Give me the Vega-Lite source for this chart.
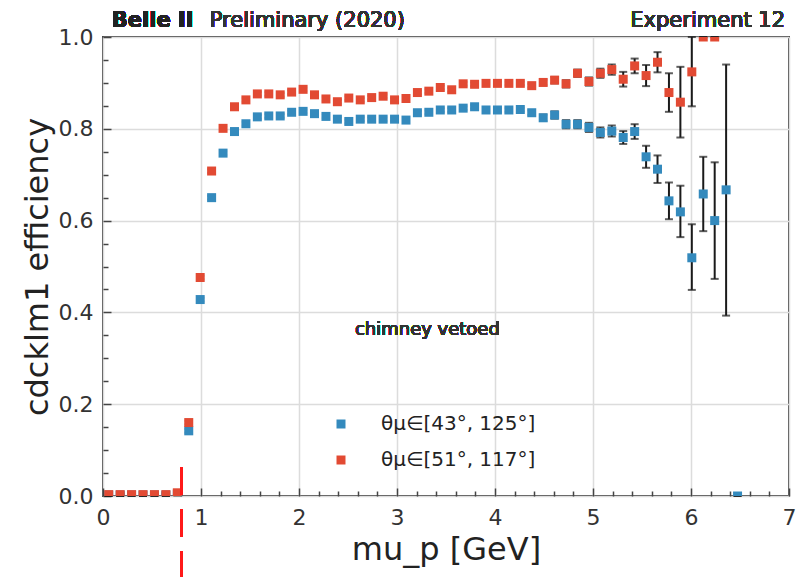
{
  "$schema": "https://vega.github.io/schema/vega-lite/v6.json",
  "width": 686,
  "height": 459,
  "autosize": {"type": "none"},
  "padding": {"left": 103, "top": 37, "right": 9, "bottom": 81},
  "background": "white",
  "config": {
    "font": "DejaVu Sans",
    "view": {"stroke": "#444", "strokeWidth": 2},
    "axis": {
      "domain": false,
      "labelFont": "DejaVu Sans",
      "labelFontSize": 22,
      "labelColor": "#333",
      "titleFont": "DejaVu Sans",
      "titleFontSize": 32,
      "titleFontWeight": "normal",
      "titleColor": "#222",
      "tickColor": "#444",
      "tickWidth": 1.5,
      "gridColor": "#dcdcdc",
      "gridWidth": 1.5,
      "labelOverlap": false,
      "labelFlush": false,
      "labelBound": false
    },
    "axisX": {"titlePadding": 6, "tickSize": -8, "labelPadding": 19},
    "axisY": {"titlePadding": 4, "tickSize": -8, "labelPadding": 18}
  },
  "datasets": {
    "pts": [
      {"series": "θμ∈[43°, 125°]", "p": 0.0583, "eff": 0.002, "lo": 0.0, "hi": 0.004},
      {"series": "θμ∈[43°, 125°]", "p": 0.175, "eff": 0.002, "lo": 0.0, "hi": 0.004},
      {"series": "θμ∈[43°, 125°]", "p": 0.2917, "eff": 0.002, "lo": 0.0, "hi": 0.004},
      {"series": "θμ∈[43°, 125°]", "p": 0.4083, "eff": 0.002, "lo": 0.0, "hi": 0.004},
      {"series": "θμ∈[43°, 125°]", "p": 0.525, "eff": 0.002, "lo": 0.0, "hi": 0.004},
      {"series": "θμ∈[43°, 125°]", "p": 0.6417, "eff": 0.002, "lo": 0.0, "hi": 0.004},
      {"series": "θμ∈[43°, 125°]", "p": 0.7583, "eff": 0.004, "lo": 0.001, "hi": 0.007},
      {"series": "θμ∈[43°, 125°]", "p": 0.875, "eff": 0.142, "lo": 0.138, "hi": 0.146},
      {"series": "θμ∈[43°, 125°]", "p": 0.9917, "eff": 0.428, "lo": 0.424, "hi": 0.432},
      {"series": "θμ∈[43°, 125°]", "p": 1.1083, "eff": 0.650, "lo": 0.646, "hi": 0.654},
      {"series": "θμ∈[43°, 125°]", "p": 1.225, "eff": 0.747, "lo": 0.743, "hi": 0.751},
      {"series": "θμ∈[43°, 125°]", "p": 1.3417, "eff": 0.794, "lo": 0.790, "hi": 0.798},
      {"series": "θμ∈[43°, 125°]", "p": 1.4583, "eff": 0.811, "lo": 0.807, "hi": 0.815},
      {"series": "θμ∈[43°, 125°]", "p": 1.575, "eff": 0.826, "lo": 0.822, "hi": 0.830},
      {"series": "θμ∈[43°, 125°]", "p": 1.6917, "eff": 0.828, "lo": 0.824, "hi": 0.832},
      {"series": "θμ∈[43°, 125°]", "p": 1.8083, "eff": 0.828, "lo": 0.824, "hi": 0.832},
      {"series": "θμ∈[43°, 125°]", "p": 1.925, "eff": 0.836, "lo": 0.832, "hi": 0.840},
      {"series": "θμ∈[43°, 125°]", "p": 2.0417, "eff": 0.838, "lo": 0.834, "hi": 0.842},
      {"series": "θμ∈[43°, 125°]", "p": 2.1583, "eff": 0.833, "lo": 0.829, "hi": 0.837},
      {"series": "θμ∈[43°, 125°]", "p": 2.275, "eff": 0.827, "lo": 0.823, "hi": 0.831},
      {"series": "θμ∈[43°, 125°]", "p": 2.3917, "eff": 0.821, "lo": 0.817, "hi": 0.825},
      {"series": "θμ∈[43°, 125°]", "p": 2.5083, "eff": 0.816, "lo": 0.812, "hi": 0.820},
      {"series": "θμ∈[43°, 125°]", "p": 2.625, "eff": 0.821, "lo": 0.817, "hi": 0.825},
      {"series": "θμ∈[43°, 125°]", "p": 2.7417, "eff": 0.821, "lo": 0.817, "hi": 0.825},
      {"series": "θμ∈[43°, 125°]", "p": 2.8583, "eff": 0.821, "lo": 0.817, "hi": 0.825},
      {"series": "θμ∈[43°, 125°]", "p": 2.975, "eff": 0.821, "lo": 0.817, "hi": 0.825},
      {"series": "θμ∈[43°, 125°]", "p": 3.0917, "eff": 0.819, "lo": 0.815, "hi": 0.823},
      {"series": "θμ∈[43°, 125°]", "p": 3.2083, "eff": 0.835, "lo": 0.831, "hi": 0.839},
      {"series": "θμ∈[43°, 125°]", "p": 3.325, "eff": 0.836, "lo": 0.832, "hi": 0.840},
      {"series": "θμ∈[43°, 125°]", "p": 3.4417, "eff": 0.841, "lo": 0.837, "hi": 0.845},
      {"series": "θμ∈[43°, 125°]", "p": 3.5583, "eff": 0.841, "lo": 0.837, "hi": 0.845},
      {"series": "θμ∈[43°, 125°]", "p": 3.675, "eff": 0.845, "lo": 0.841, "hi": 0.849},
      {"series": "θμ∈[43°, 125°]", "p": 3.7917, "eff": 0.848, "lo": 0.844, "hi": 0.852},
      {"series": "θμ∈[43°, 125°]", "p": 3.9083, "eff": 0.841, "lo": 0.837, "hi": 0.845},
      {"series": "θμ∈[43°, 125°]", "p": 4.025, "eff": 0.841, "lo": 0.837, "hi": 0.845},
      {"series": "θμ∈[43°, 125°]", "p": 4.1417, "eff": 0.841, "lo": 0.837, "hi": 0.845},
      {"series": "θμ∈[43°, 125°]", "p": 4.2583, "eff": 0.842, "lo": 0.838, "hi": 0.846},
      {"series": "θμ∈[43°, 125°]", "p": 4.375, "eff": 0.835, "lo": 0.830, "hi": 0.840},
      {"series": "θμ∈[43°, 125°]", "p": 4.4917, "eff": 0.824, "lo": 0.817, "hi": 0.831},
      {"series": "θμ∈[43°, 125°]", "p": 4.6083, "eff": 0.830, "lo": 0.822, "hi": 0.838},
      {"series": "θμ∈[43°, 125°]", "p": 4.725, "eff": 0.810, "lo": 0.801, "hi": 0.819},
      {"series": "θμ∈[43°, 125°]", "p": 4.8417, "eff": 0.810, "lo": 0.801, "hi": 0.819},
      {"series": "θμ∈[43°, 125°]", "p": 4.9583, "eff": 0.803, "lo": 0.793, "hi": 0.813},
      {"series": "θμ∈[43°, 125°]", "p": 5.075, "eff": 0.792, "lo": 0.781, "hi": 0.803},
      {"series": "θμ∈[43°, 125°]", "p": 5.1917, "eff": 0.795, "lo": 0.783, "hi": 0.807},
      {"series": "θμ∈[43°, 125°]", "p": 5.3083, "eff": 0.781, "lo": 0.767, "hi": 0.795},
      {"series": "θμ∈[43°, 125°]", "p": 5.425, "eff": 0.794, "lo": 0.778, "hi": 0.810},
      {"series": "θμ∈[43°, 125°]", "p": 5.5417, "eff": 0.739, "lo": 0.715, "hi": 0.763},
      {"series": "θμ∈[43°, 125°]", "p": 5.6583, "eff": 0.712, "lo": 0.682, "hi": 0.742},
      {"series": "θμ∈[43°, 125°]", "p": 5.775, "eff": 0.643, "lo": 0.603, "hi": 0.683},
      {"series": "θμ∈[43°, 125°]", "p": 5.8917, "eff": 0.619, "lo": 0.564, "hi": 0.676},
      {"series": "θμ∈[43°, 125°]", "p": 6.0083, "eff": 0.519, "lo": 0.449, "hi": 0.592},
      {"series": "θμ∈[43°, 125°]", "p": 6.125, "eff": 0.658, "lo": 0.577, "hi": 0.739},
      {"series": "θμ∈[43°, 125°]", "p": 6.2417, "eff": 0.600, "lo": 0.473, "hi": 0.727},
      {"series": "θμ∈[43°, 125°]", "p": 6.3583, "eff": 0.667, "lo": 0.393, "hi": 0.940},
      {"series": "θμ∈[43°, 125°]", "p": 6.475, "eff": 0.0, "lo": 0.0, "hi": 0.0},
      {"series": "θμ∈[51°, 117°]", "p": 0.0583, "eff": 0.003, "lo": 0.0, "hi": 0.006},
      {"series": "θμ∈[51°, 117°]", "p": 0.175, "eff": 0.003, "lo": 0.0, "hi": 0.006},
      {"series": "θμ∈[51°, 117°]", "p": 0.2917, "eff": 0.003, "lo": 0.0, "hi": 0.006},
      {"series": "θμ∈[51°, 117°]", "p": 0.4083, "eff": 0.003, "lo": 0.0, "hi": 0.006},
      {"series": "θμ∈[51°, 117°]", "p": 0.525, "eff": 0.003, "lo": 0.0, "hi": 0.006},
      {"series": "θμ∈[51°, 117°]", "p": 0.6417, "eff": 0.003, "lo": 0.0, "hi": 0.006},
      {"series": "θμ∈[51°, 117°]", "p": 0.7583, "eff": 0.007, "lo": 0.003, "hi": 0.011},
      {"series": "θμ∈[51°, 117°]", "p": 0.875, "eff": 0.160, "lo": 0.156, "hi": 0.164},
      {"series": "θμ∈[51°, 117°]", "p": 0.9917, "eff": 0.476, "lo": 0.472, "hi": 0.480},
      {"series": "θμ∈[51°, 117°]", "p": 1.1083, "eff": 0.708, "lo": 0.704, "hi": 0.712},
      {"series": "θμ∈[51°, 117°]", "p": 1.225, "eff": 0.801, "lo": 0.797, "hi": 0.805},
      {"series": "θμ∈[51°, 117°]", "p": 1.3417, "eff": 0.848, "lo": 0.844, "hi": 0.852},
      {"series": "θμ∈[51°, 117°]", "p": 1.4583, "eff": 0.863, "lo": 0.859, "hi": 0.867},
      {"series": "θμ∈[51°, 117°]", "p": 1.575, "eff": 0.876, "lo": 0.872, "hi": 0.880},
      {"series": "θμ∈[51°, 117°]", "p": 1.6917, "eff": 0.876, "lo": 0.872, "hi": 0.880},
      {"series": "θμ∈[51°, 117°]", "p": 1.8083, "eff": 0.874, "lo": 0.870, "hi": 0.878},
      {"series": "θμ∈[51°, 117°]", "p": 1.925, "eff": 0.880, "lo": 0.876, "hi": 0.884},
      {"series": "θμ∈[51°, 117°]", "p": 2.0417, "eff": 0.886, "lo": 0.882, "hi": 0.890},
      {"series": "θμ∈[51°, 117°]", "p": 2.1583, "eff": 0.874, "lo": 0.870, "hi": 0.878},
      {"series": "θμ∈[51°, 117°]", "p": 2.275, "eff": 0.865, "lo": 0.861, "hi": 0.869},
      {"series": "θμ∈[51°, 117°]", "p": 2.3917, "eff": 0.859, "lo": 0.855, "hi": 0.863},
      {"series": "θμ∈[51°, 117°]", "p": 2.5083, "eff": 0.867, "lo": 0.863, "hi": 0.871},
      {"series": "θμ∈[51°, 117°]", "p": 2.625, "eff": 0.863, "lo": 0.859, "hi": 0.867},
      {"series": "θμ∈[51°, 117°]", "p": 2.7417, "eff": 0.868, "lo": 0.864, "hi": 0.872},
      {"series": "θμ∈[51°, 117°]", "p": 2.8583, "eff": 0.871, "lo": 0.867, "hi": 0.875},
      {"series": "θμ∈[51°, 117°]", "p": 2.975, "eff": 0.863, "lo": 0.859, "hi": 0.867},
      {"series": "θμ∈[51°, 117°]", "p": 3.0917, "eff": 0.866, "lo": 0.862, "hi": 0.870},
      {"series": "θμ∈[51°, 117°]", "p": 3.2083, "eff": 0.879, "lo": 0.875, "hi": 0.883},
      {"series": "θμ∈[51°, 117°]", "p": 3.325, "eff": 0.882, "lo": 0.878, "hi": 0.886},
      {"series": "θμ∈[51°, 117°]", "p": 3.4417, "eff": 0.890, "lo": 0.886, "hi": 0.894},
      {"series": "θμ∈[51°, 117°]", "p": 3.5583, "eff": 0.885, "lo": 0.881, "hi": 0.889},
      {"series": "θμ∈[51°, 117°]", "p": 3.675, "eff": 0.898, "lo": 0.894, "hi": 0.902},
      {"series": "θμ∈[51°, 117°]", "p": 3.7917, "eff": 0.897, "lo": 0.893, "hi": 0.901},
      {"series": "θμ∈[51°, 117°]", "p": 3.9083, "eff": 0.899, "lo": 0.895, "hi": 0.903},
      {"series": "θμ∈[51°, 117°]", "p": 4.025, "eff": 0.899, "lo": 0.895, "hi": 0.903},
      {"series": "θμ∈[51°, 117°]", "p": 4.1417, "eff": 0.899, "lo": 0.895, "hi": 0.903},
      {"series": "θμ∈[51°, 117°]", "p": 4.2583, "eff": 0.899, "lo": 0.895, "hi": 0.903},
      {"series": "θμ∈[51°, 117°]", "p": 4.375, "eff": 0.894, "lo": 0.890, "hi": 0.898},
      {"series": "θμ∈[51°, 117°]", "p": 4.4917, "eff": 0.901, "lo": 0.895, "hi": 0.907},
      {"series": "θμ∈[51°, 117°]", "p": 4.6083, "eff": 0.906, "lo": 0.899, "hi": 0.913},
      {"series": "θμ∈[51°, 117°]", "p": 4.725, "eff": 0.898, "lo": 0.890, "hi": 0.906},
      {"series": "θμ∈[51°, 117°]", "p": 4.8417, "eff": 0.921, "lo": 0.913, "hi": 0.929},
      {"series": "θμ∈[51°, 117°]", "p": 4.9583, "eff": 0.903, "lo": 0.894, "hi": 0.912},
      {"series": "θμ∈[51°, 117°]", "p": 5.075, "eff": 0.921, "lo": 0.911, "hi": 0.931},
      {"series": "θμ∈[51°, 117°]", "p": 5.1917, "eff": 0.929, "lo": 0.918, "hi": 0.940},
      {"series": "θμ∈[51°, 117°]", "p": 5.3083, "eff": 0.908, "lo": 0.892, "hi": 0.924},
      {"series": "θμ∈[51°, 117°]", "p": 5.425, "eff": 0.937, "lo": 0.921, "hi": 0.953},
      {"series": "θμ∈[51°, 117°]", "p": 5.5417, "eff": 0.916, "lo": 0.893, "hi": 0.939},
      {"series": "θμ∈[51°, 117°]", "p": 5.6583, "eff": 0.945, "lo": 0.923, "hi": 0.967},
      {"series": "θμ∈[51°, 117°]", "p": 5.775, "eff": 0.879, "lo": 0.837, "hi": 0.921},
      {"series": "θμ∈[51°, 117°]", "p": 5.8917, "eff": 0.858, "lo": 0.781, "hi": 0.935},
      {"series": "θμ∈[51°, 117°]", "p": 6.0083, "eff": 0.924, "lo": 0.849, "hi": 1.0},
      {"series": "θμ∈[51°, 117°]", "p": 6.125, "eff": 1.0, "lo": 1.0, "hi": 1.0},
      {"series": "θμ∈[51°, 117°]", "p": 6.2417, "eff": 1.0, "lo": 1.0, "hi": 1.0}
    ]
  },
  "resolve": {"axis": {"x": "independent", "y": "independent"}},
  "layer": [
    {
      "data": {"name": "pts"},
      "layer": [
        {
          "mark": {"type": "errorbar", "ticks": true, "size": 8, "thickness": 2, "color": "#1a1a1a"},
          "encoding": {
            "x": {"field": "p", "type": "quantitative", "title": "mu_p [GeV]", "scale": {"domain": [0, 7]},
                  "axis": {"orient": "bottom", "values": [0, 1, 2, 3, 4, 5, 6, 7], "format": "d"}},
            "y": {"field": "lo", "type": "quantitative", "title": "cdcklm1 efficiency", "scale": {"domain": [0, 1]},
                  "axis": {"orient": "left", "values": [0, 0.2, 0.4, 0.6, 0.8, 1], "format": ".1f"}},
            "y2": {"field": "hi"}
          }
        },
        {
          "mark": {"type": "square", "size": 81, "opacity": 1, "clip": true},
          "encoding": {
            "x": {"field": "p", "type": "quantitative", "title": "mu_p [GeV]", "scale": {"domain": [0, 7]},
                  "axis": {"orient": "bottom", "values": [0, 1, 2, 3, 4, 5, 6, 7], "format": "d"}},
            "y": {"field": "eff", "type": "quantitative", "title": "cdcklm1 efficiency", "scale": {"domain": [0, 1]},
                  "axis": {"orient": "left", "values": [0, 0.2, 0.4, 0.6, 0.8, 1], "format": ".1f"}},
            "color": {
              "field": "series", "type": "nominal",
              "scale": {"domain": ["θμ∈[43°, 125°]", "θμ∈[51°, 117°]"], "range": ["#348ABD", "#E24A33"]},
              "legend": {
                "title": null,
                "orient": "none",
                "legendX": 228,
                "legendY": 377,
                "symbolType": "square",
                "symbolSize": 81,
                "symbolStrokeWidth": 0,
                "labelFont": "DejaVu Sans",
                "labelFontSize": 20,
                "labelColor": "#222",
                "labelOffset": 30,
                "rowPadding": 16,
                "padding": 0
              }
            }
          }
        },
        {
          "mark": {"type": "rule", "color": "#ff1a1a", "strokeWidth": 2.5, "strokeDash": [28, 14], "clip": false},
          "encoding": {
            "x": {"datum": 0.8, "type": "quantitative"},
            "y": {"datum": 0.063, "type": "quantitative"},
            "y2": {"datum": -0.18}
          }
        },
        {
          "mark": {"type": "text", "text": "chimney vetoed", "fontSize": 18, "align": "center", "baseline": "middle", "color": "#333"},
          "encoding": {
            "x": {"datum": 3.31, "type": "quantitative"},
            "y": {"datum": 0.362, "type": "quantitative"}
          }
        },
        {
          "mark": {"type": "text", "text": "Belle II", "fontSize": 21, "fontWeight": "bold", "align": "left", "baseline": "alphabetic", "dy": -10, "color": "#222", "clip": false},
          "encoding": {
            "x": {"datum": 0.09, "type": "quantitative"},
            "y": {"datum": 1, "type": "quantitative"}
          }
        },
        {
          "mark": {"type": "text", "text": "Preliminary (2020)", "fontSize": 21, "align": "left", "baseline": "alphabetic", "dy": -10, "color": "#333", "clip": false},
          "encoding": {
            "x": {"datum": 1.09, "type": "quantitative"},
            "y": {"datum": 1, "type": "quantitative"}
          }
        },
        {
          "mark": {"type": "text", "text": "Experiment 12", "fontSize": 21, "align": "right", "baseline": "alphabetic", "dy": -10, "color": "#333", "clip": false},
          "encoding": {
            "x": {"datum": 6.96, "type": "quantitative"},
            "y": {"datum": 1, "type": "quantitative"}
          }
        }
      ]
    },
    {
      "data": {"values": [{}]},
      "mark": {"type": "point", "opacity": 0, "size": 0},
      "encoding": {
        "x": {"datum": 0, "type": "quantitative",
              "axis": {"orient": "bottom", "title": null, "labels": false, "grid": false, "tickSize": -5,
                       "values": [0.2, 0.4, 0.6, 0.8, 1.2, 1.4, 1.6, 1.8, 2.2, 2.4, 2.6, 2.8, 3.2, 3.4, 3.6, 3.8, 4.2, 4.4, 4.6, 4.8, 5.2, 5.4, 5.6, 5.8, 6.2, 6.4, 6.6, 6.8]}},
        "y": {"datum": 0, "type": "quantitative",
              "axis": {"orient": "left", "title": null, "labels": false, "grid": false, "tickSize": -5,
                       "values": [0.05, 0.1, 0.15, 0.25, 0.3, 0.35, 0.45, 0.5, 0.55, 0.65, 0.7, 0.75, 0.85, 0.9, 0.95]}}
      }
    }
  ]
}
